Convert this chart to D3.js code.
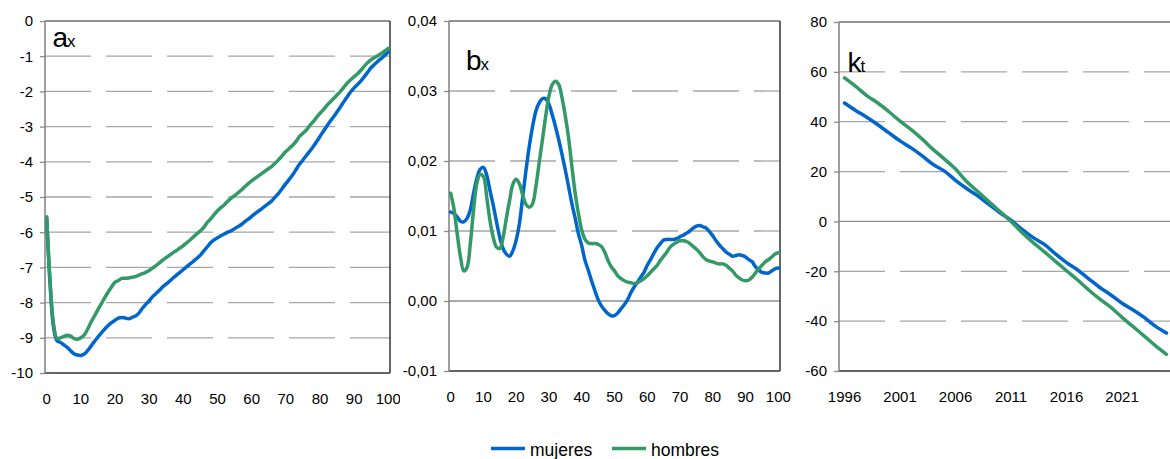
<!DOCTYPE html>
<html>
<head>
<meta charset="utf-8">
<script src="https://cdn.jsdelivr.net/npm/d3@7"></script>
<style>
  html, body { margin: 0; padding: 0; background: #fff; }
  svg { display: block; font-family: "Liberation Sans", Arial, sans-serif; }
</style>
</head>
<body>
<svg id="chart" width="1170" height="459"></svg>
<script>
// ---------------- DATA ----------------
const ages = d3.range(0, 101);
const years = d3.range(1996, 2026);

const seriesNames = ["mujeres", "hombres"];
const seriesColors = ["#0066cc", "#339966"];

// a_x
const axMujeres = [
  -5.6, -7.5, -8.7, -9.08, -9.13, -9.2, -9.27, -9.37, -9.45, -9.49,
  -9.5, -9.46, -9.36, -9.23, -9.1, -8.98, -8.86, -8.75, -8.65, -8.57,
  -8.5, -8.44, -8.42, -8.44, -8.46, -8.42, -8.38, -8.3, -8.16, -8.05,
  -7.95, -7.83, -7.74, -7.65, -7.55, -7.47, -7.39, -7.3, -7.22, -7.14,
  -7.06, -6.98, -6.9, -6.82, -6.74, -6.65, -6.53, -6.42, -6.3, -6.22,
  -6.16, -6.1, -6.05, -6.0, -5.96, -5.9, -5.84, -5.78, -5.7, -5.63,
  -5.55, -5.47, -5.4, -5.33, -5.25, -5.18, -5.1, -4.99, -4.88, -4.75,
  -4.62, -4.5, -4.37, -4.22, -4.07, -3.95, -3.82, -3.7, -3.57, -3.43,
  -3.28, -3.13, -2.99, -2.85, -2.72, -2.58, -2.44, -2.29, -2.15, -2.01,
  -1.9, -1.8, -1.7, -1.58, -1.45, -1.32, -1.23, -1.14, -1.06, -0.97,
  -0.88
];
const axHombres = [
  -5.56, -7.4, -8.6, -9.02, -9.0, -8.96, -8.93, -8.95, -9.02, -9.04,
  -9.0, -8.92, -8.75, -8.55, -8.38, -8.2, -8.03, -7.86, -7.7, -7.55,
  -7.42, -7.37, -7.31, -7.31, -7.3, -7.28, -7.26, -7.22, -7.18, -7.14,
  -7.09, -7.02, -6.95, -6.87, -6.79, -6.72, -6.65, -6.58, -6.52, -6.45,
  -6.38, -6.3, -6.22, -6.13, -6.04, -5.96, -5.86, -5.72, -5.62, -5.5,
  -5.39, -5.3, -5.22, -5.12, -5.03, -4.96, -4.88, -4.8, -4.71, -4.62,
  -4.54, -4.47, -4.4, -4.33, -4.26, -4.19, -4.12, -4.03, -3.93, -3.82,
  -3.71, -3.62, -3.53, -3.42, -3.28, -3.19, -3.1, -2.97, -2.86, -2.74,
  -2.62, -2.52, -2.4, -2.3, -2.2, -2.1, -2.0, -1.88, -1.76, -1.67,
  -1.58, -1.5, -1.4, -1.28, -1.18, -1.1, -1.04, -0.98, -0.92, -0.85,
  -0.78
];

// b_x
const bxMujeres = [
  0.0127, 0.0125, 0.0120, 0.0114, 0.0113, 0.0118, 0.0130, 0.0154, 0.0175, 0.0188,
  0.0191, 0.0180, 0.0158, 0.0137, 0.0113, 0.0091, 0.0075, 0.0067, 0.0064, 0.0072,
  0.0087, 0.0111, 0.0149, 0.0187, 0.0221, 0.0249, 0.0271, 0.0283, 0.0289, 0.0289,
  0.0281, 0.0266, 0.0249, 0.0230, 0.0209, 0.0187, 0.0163, 0.0139, 0.0118, 0.0096,
  0.0079, 0.0058, 0.0044, 0.0029, 0.0015, 0.0002, -0.0007, -0.0013, -0.0018, -0.0021,
  -0.0021, -0.0017, -0.0011, -0.0005, 0.0002, 0.0012, 0.0020, 0.0027, 0.0034, 0.0041,
  0.0051, 0.0059, 0.0068, 0.0076, 0.0082, 0.0087, 0.0088, 0.0088, 0.0088, 0.0089,
  0.0092, 0.0094, 0.0097, 0.0100, 0.0104, 0.0107, 0.0108, 0.0106, 0.0104, 0.0099,
  0.0093, 0.0086, 0.0080, 0.0075, 0.0070, 0.0067, 0.0064, 0.0065, 0.0066, 0.0065,
  0.0063, 0.0059, 0.0056, 0.0049, 0.0044, 0.0041, 0.0040, 0.0040, 0.0043, 0.0046,
  0.0047
];
const bxHombres = [
  0.0154, 0.0132, 0.0096, 0.0063, 0.0043, 0.0048, 0.0082, 0.0130, 0.0168, 0.0181,
  0.0178, 0.0149, 0.0115, 0.0091, 0.0077, 0.0075, 0.0091, 0.0118, 0.0144, 0.0167,
  0.0174, 0.0167, 0.0151, 0.0138, 0.0134, 0.0139, 0.0163, 0.0197, 0.0230, 0.0264,
  0.0293, 0.0309, 0.0314, 0.0309, 0.0290, 0.0264, 0.0233, 0.0192, 0.0154, 0.0125,
  0.0101, 0.0088, 0.0083, 0.0082, 0.0082, 0.0081, 0.0078, 0.0070, 0.0058, 0.0049,
  0.0043, 0.0036, 0.0032, 0.0029, 0.0027, 0.0026, 0.0025, 0.0026, 0.0029, 0.0032,
  0.0036, 0.0041, 0.0046, 0.0051, 0.0058, 0.0064, 0.0070, 0.0077, 0.0081, 0.0084,
  0.0086, 0.0086, 0.0085, 0.0082, 0.0078, 0.0074, 0.0069, 0.0063, 0.0059, 0.0057,
  0.0056, 0.0054, 0.0053, 0.0053, 0.0051, 0.0047, 0.0043, 0.0037, 0.0033, 0.0030,
  0.0029, 0.0030, 0.0034, 0.0040, 0.0046, 0.0051, 0.0056, 0.0059, 0.0063, 0.0067,
  0.0069
];

// k_t
const ktMujeres = [
  47.5, 44.5, 41.8, 38.8, 35.5, 32.3, 29.5, 26.3, 22.8, 20.2,
  16.5, 13.2, 10.3, 6.8, 3.5, 0.5, -3.2, -6.5, -9.2, -13.0,
  -16.5, -19.5, -23.0, -26.5, -29.5, -32.8, -35.5, -38.5, -42.0, -44.8
];
const ktHombres = [
  57.6, 54.2, 50.5, 47.5, 44.0, 40.2, 36.8, 33.0, 28.8, 25.0,
  21.0, 16.0, 12.0, 8.0, 4.0, 0.0, -4.5, -8.5, -12.2, -16.0,
  -19.8, -23.5, -27.5, -31.2, -34.5, -38.5, -42.2, -46.0, -49.8, -53.3
];

// tick labels
const ageTicks = [0, 10, 20, 30, 40, 50, 60, 70, 80, 90, 100];
const yearTicks = [1996, 2001, 2006, 2011, 2016, 2021];
const axTicks = [0, -1, -2, -3, -4, -5, -6, -7, -8, -9, -10];
const bxTicks = [0.04, 0.03, 0.02, 0.01, 0.00, -0.01];
const ktTicks = [80, 60, 40, 20, 0, -20, -40, -60];

// ---------------- DRAW ----------------
const svg = d3.select("#chart");
const FONT = 15;

const panels = [
  { id: "a", main: "a", sub: "x", cats: ages, series: [axMujeres, axHombres],
    xTicks: ageTicks, yTicks: axTicks, yDomain: [-10, 0],
    left: 45, right: 390, top: 21, bottom: 373, clip: [0, 400],
    fmt: d => String(d), labelX: 52.5, labelY: 46.5 },
  { id: "b", main: "b", sub: "x", cats: ages, series: [bxMujeres, bxHombres],
    xTicks: ageTicks, yTicks: bxTicks, yDomain: [-0.01, 0.04],
    left: 449, right: 780, top: 21, bottom: 371, clip: [400, 791],
    fmt: d => d3.format(".2f")(d).replace(".", ",").replace("−", "-"), labelX: 466, labelY: 70 },
  { id: "k", main: "k", sub: "t", cats: years, series: [ktMujeres, ktHombres],
    xTicks: yearTicks, yTicks: ktTicks, yDomain: [-60, 80],
    left: 839, right: 1172, top: 22, bottom: 371, clip: [791, 1170],
    fmt: d => String(d), labelX: 847.5, labelY: 72 }
];

const defs = svg.append("defs");

panels.forEach(p => {
  defs.append("clipPath").attr("id", "clip-" + p.id)
    .append("rect").attr("x", p.clip[0]).attr("y", 0)
    .attr("width", p.clip[1] - p.clip[0]).attr("height", 430);

  const g = svg.append("g").attr("clip-path", `url(#clip-${p.id})`);

  const x = d3.scaleBand().domain(p.cats).range([p.left, p.right]).padding(0);
  const y = d3.scaleLinear().domain(p.yDomain).range([p.bottom, p.top]);
  const bw = x.bandwidth();

  // gridlines (interior only)
  const inner = p.yTicks.filter(t => t > p.yDomain[0] && t < p.yDomain[1]);
  g.append("g").selectAll("line").data(inner).join("line")
    .attr("x1", p.left).attr("x2", p.right)
    .attr("y1", d => y(d)).attr("y2", d => y(d))
    .attr("stroke", d => d === 0 ? "#8c8c8c" : "#a6a6a6")
    .attr("stroke-width", 1.3)
    .attr("stroke-dasharray", d => d === 0 ? null : "46,15");

  // y axis
  const yAxis = d3.axisLeft(y).tickValues(p.yTicks).tickSize(5).tickPadding(7)
    .tickFormat(p.fmt);
  const ya = g.append("g").attr("transform", `translate(${p.left},0)`).call(yAxis);
  ya.select(".domain").remove();
  ya.selectAll(".tick line").attr("stroke", "#8c8c8c").attr("stroke-width", 1.3);
  ya.selectAll(".tick text").attr("font-size", FONT)
    .attr("font-family", "Liberation Sans, Arial, sans-serif").attr("fill", "#000");

  // x axis
  const xAxis = d3.axisBottom(x).tickValues(p.xTicks).tickSize(0).tickPadding(20);
  const xa = g.append("g").attr("transform", `translate(0,${p.bottom})`).call(xAxis);
  xa.select(".domain").remove();
  xa.selectAll(".tick text").attr("font-size", FONT)
    .attr("font-family", "Liberation Sans, Arial, sans-serif").attr("fill", "#000");

  // frame
  g.append("line").attr("x1", p.left).attr("x2", p.right).attr("y1", p.top).attr("y2", p.top)
    .attr("stroke", "#6e6e6e").attr("stroke-width", 1.5);
  g.append("line").attr("x1", p.right).attr("x2", p.right).attr("y1", p.top).attr("y2", p.bottom)
    .attr("stroke", "#333").attr("stroke-width", 1.5);
  g.append("line").attr("x1", p.left).attr("x2", p.right).attr("y1", p.bottom).attr("y2", p.bottom)
    .attr("stroke", "#333").attr("stroke-width", 1.5);
  g.append("line").attr("x1", p.left).attr("x2", p.left).attr("y1", p.top).attr("y2", p.bottom)
    .attr("stroke", "#7f7f7f").attr("stroke-width", 1.5);

  // series
  const line = d3.line()
    .x((d, i) => x(p.cats[i]) + bw / 2)
    .y(d => y(d))
    .curve(d3.curveCatmullRom.alpha(0.5));
  p.series.forEach((s, si) => {
    g.append("path").datum(s)
      .attr("fill", "none")
      .attr("stroke", seriesColors[si])
      .attr("stroke-width", 3.5)
      .attr("stroke-linejoin", "round")
      .attr("stroke-linecap", "round")
      .attr("d", line);
  });

  // panel label
  const t = g.append("text").attr("x", p.labelX).attr("y", p.labelY)
    .attr("font-family", "Liberation Sans, Arial, sans-serif").attr("fill", "#000");
  t.append("tspan").attr("font-size", 28).attr("letter-spacing", -1).text(p.main);
  t.append("tspan").attr("font-size", 17).text(p.sub);
});

// legend
const legend = svg.append("g");
const legendItems = [
  { name: seriesNames[0], color: seriesColors[0], x: 491 },
  { name: seriesNames[1], color: seriesColors[1], x: 612 }
];
legendItems.forEach(it => {
  legend.append("line").attr("x1", it.x).attr("x2", it.x + 34)
    .attr("y1", 448.5).attr("y2", 448.5)
    .attr("stroke", it.color).attr("stroke-width", 3.5);
  legend.append("text").attr("x", it.x + 39).attr("y", 456)
    .attr("font-size", 17.5).attr("font-family", "Liberation Sans, Arial, sans-serif")
    .attr("fill", "#000").text(it.name);
});
</script>
</body>
</html>
